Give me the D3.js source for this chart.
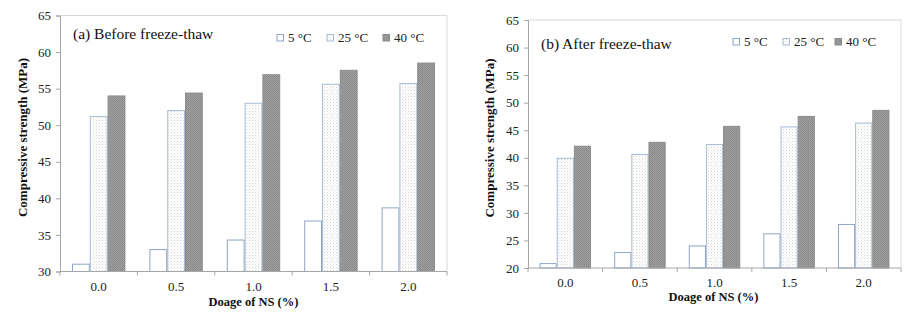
<!DOCTYPE html>
<html>
<head>
<meta charset="utf-8">
<script src="https://cdn.jsdelivr.net/npm/d3@7"></script>
<style>
  html, body { margin: 0; padding: 0; background: #fff; }
  svg, svg text { font-family: "Liberation Serif", "Times New Roman", serif !important; }
</style>
</head>
<body>
<svg id="chart" width="924" height="321"></svg>
<script>
// ---- data ----
const categories = ["0.0", "0.5", "1.0", "1.5", "2.0"];
const seriesNames = ["5 °C", "25 °C", "40 °C"];

// (a) Before freeze-thaw
const beforeT5  = [31.0, 33.0, 34.3, 36.9, 38.7];
const beforeT25 = [51.2, 52.0, 53.0, 55.6, 55.7];
const beforeT40 = [54.0, 54.4, 56.9, 57.5, 58.5];
const beforeTicks = [30, 35, 40, 45, 50, 55, 60, 65];

// (b) After freeze-thaw
const afterT5  = [20.8, 22.8, 24.0, 26.2, 27.9];
const afterT25 = [39.9, 40.6, 42.4, 45.6, 46.3];
const afterT40 = [42.1, 42.8, 45.7, 47.5, 48.6];
const afterTicks = [20, 25, 30, 35, 40, 45, 50, 55, 60, 65];

const yTitle = "Compressive strength (MPa)";
const xTitle = "Doage of NS (%)";

// ---- drawing ----
const FONT = "Liberation Serif";
const svg = d3.select("#chart");
const defs = svg.append("defs");

// light dotted pattern (25 °C)
const p1 = defs.append("pattern").attr("id", "dotsLight")
  .attr("patternUnits", "userSpaceOnUse").attr("width", 3).attr("height", 3);
p1.append("rect").attr("width", 3).attr("height", 3).attr("fill", "#ffffff");
p1.append("rect").attr("x", 0).attr("y", 0).attr("width", 1).attr("height", 1).attr("fill", "#d6d6d6");
p1.append("rect").attr("x", 1.5).attr("y", 1.5).attr("width", 1).attr("height", 1).attr("fill", "#e2e2e2");

// dense dark pattern (40 °C)
const p2 = defs.append("pattern").attr("id", "dotsDark")
  .attr("patternUnits", "userSpaceOnUse").attr("width", 2).attr("height", 2);
p2.append("rect").attr("width", 2).attr("height", 2).attr("fill", "#a0a0a0");
p2.append("rect").attr("x", 0).attr("y", 0).attr("width", 1).attr("height", 1).attr("fill", "#868686");
p2.append("rect").attr("x", 1).attr("y", 1).attr("width", 1).attr("height", 1).attr("fill", "#8f8f8f");

const styles = [
  { fill: "#ffffff", stroke: "#8ea6c6" },
  { fill: "url(#dotsLight)", stroke: "#a9bcd6" },
  { fill: "url(#dotsDark)", stroke: "#8c8c8c" }
];

function txt(sel, size, bold) {
  return sel.attr("font-family", FONT).style("font-family", FONT)
    .style("font-size", size + "px").style("font-weight", bold ? "bold" : "normal");
}

function panel(cfg) {
  const g = svg.append("g");
  const { x0, x1r, yTop, yBot, domain, ticks, series } = cfg;

  const y = d3.scaleLinear().domain(domain).range([yBot, yTop]);
  const xb = d3.scaleBand().domain(categories).range([x0, x1r])
    .paddingInner(0.31).paddingOuter(0.155);
  const xs = d3.scaleBand().domain(seriesNames).range([0, xb.bandwidth()]).padding(0);

  // plot border (top & right)
  g.append("path")
    .attr("d", `M${x0},${y(domain[1])}H${x1r}V${yBot}`)
    .attr("fill", "none").attr("stroke", "#d9d9d9").attr("stroke-width", 1);

  // bars
  series.forEach((vals, si) => {
    g.append("g").selectAll("rect").data(vals).join("rect")
      .attr("x", (d, i) => xb(categories[i]) + xs(seriesNames[si]) + 0.5)
      .attr("y", d => y(d))
      .attr("width", xs.bandwidth() - 1)
      .attr("height", d => yBot - y(d))
      .attr("fill", styles[si].fill)
      .attr("stroke", styles[si].stroke)
      .attr("stroke-width", 1);
  });

  // y axis
  const ya = g.append("g").attr("transform", `translate(${x0},0)`)
    .call(d3.axisLeft(y).tickValues(ticks).tickSize(4).tickPadding(5).tickFormat(d3.format("d")));
  ya.attr("font-family", FONT);
  ya.select(".domain").attr("stroke", "#a6a6a6");
  ya.selectAll(".tick line").attr("stroke", "#a6a6a6");
  txt(ya.selectAll(".tick text"), 13).attr("fill", "#222");

  // x axis line with boundary ticks
  const step = xb.step();
  g.append("line").attr("x1", x0).attr("x2", x1r).attr("y1", yBot).attr("y2", yBot)
    .attr("stroke", "#a6a6a6");
  g.append("g").selectAll("line").data(d3.range(categories.length + 1)).join("line")
    .attr("x1", i => x0 + i * step).attr("x2", i => x0 + i * step)
    .attr("y1", yBot).attr("y2", yBot + 4).attr("stroke", "#a6a6a6");
  txt(g.append("g").selectAll("text").data(categories).join("text")
    .attr("x", d => xb(d) + xb.bandwidth() / 2)
    .attr("y", cfg.xLabelY)
    .attr("text-anchor", "middle").attr("fill", "#222"), 13)
    .text(d => d);

  // axis titles
  txt(g.append("text").attr("x", (x0 + x1r) / 2 + cfg.xTitleDx).attr("y", cfg.xTitleY)
    .attr("text-anchor", "middle").attr("fill", "#111"), 12.5, true).text(xTitle);
  txt(g.append("text")
    .attr("transform", `translate(${cfg.yTitleX},${(yTop + yBot) / 2 - 6}) rotate(-90)`)
    .attr("text-anchor", "middle").attr("fill", "#111"), 13, true).text(yTitle);

  // panel title
  txt(g.append("text").attr("x", cfg.titleX).attr("y", cfg.titleY).attr("fill", "#111"), 15.5)
    .text(cfg.title);

  // legend
  cfg.legendX.forEach((lx, i) => {
    g.append("rect").attr("x", lx).attr("y", cfg.legendY - 7.5).attr("width", 6.5).attr("height", 6.5)
      .attr("fill", styles[i].fill).attr("stroke", styles[i].stroke);
    txt(g.append("text").attr("x", lx + 11).attr("y", cfg.legendY).attr("fill", "#222"), 13)
      .text(seriesNames[i]);
  });
}

panel({
  x0: 60, x1r: 447, yTop: 15.5, yBot: 271.5, domain: [30, 65], ticks: beforeTicks,
  series: [beforeT5, beforeT25, beforeT40],
  xLabelY: 291, xTitleY: 306, xTitleDx: 0, yTitleX: 27,
  title: "(a) Before freeze-thaw", titleX: 73, titleY: 39,
  legendX: [277, 327, 383], legendY: 42
});

panel({
  x0: 528, x1r: 901, yTop: 20, yBot: 268, domain: [20, 65], ticks: afterTicks,
  series: [afterT5, afterT25, afterT40],
  xLabelY: 287, xTitleY: 301, xTitleDx: -1, yTitleX: 494,
  title: "(b) After freeze-thaw", titleX: 541, titleY: 49,
  legendX: [733, 783, 835], legendY: 46
});
</script>
</body>
</html>
